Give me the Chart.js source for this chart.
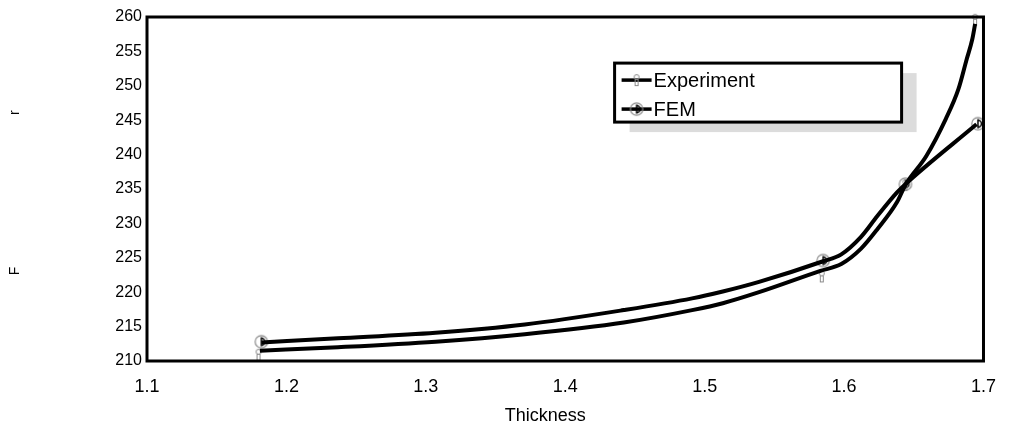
<!DOCTYPE html>
<html>
<head>
<meta charset="utf-8">
<script src="https://cdn.jsdelivr.net/npm/chart.js@4/dist/chart.umd.min.js"></script>
<style>
html,body{margin:0;padding:0;background:#fff;}
canvas{display:block;}
</style>
</head>
<body>
<canvas id="c" width="1011" height="427"></canvas>
<script>
// ---- data ----
const seriesNames = ["Experiment", "FEM"];

// traced Experiment curve (x = thickness, y = F)
const expLineX = [1.181, 1.237, 1.307, 1.371, 1.442, 1.491, 1.513, 1.539, 1.583, 1.598, 1.612, 1.624, 1.638, 1.644, 1.659, 1.673, 1.682, 1.688, 1.692, 1.694];
const expLineY = [211.5, 212.0, 212.8, 213.9, 215.6, 217.4, 218.4, 220.0, 223.1, 224.1, 226.3, 229.2, 233.1, 235.6, 239.8, 245.2, 249.5, 253.9, 256.8, 259.0];

// traced FEM curve
const femLineX = [1.182, 1.237, 1.307, 1.371, 1.442, 1.491, 1.513, 1.539, 1.585, 1.598, 1.612, 1.624, 1.638, 1.644, 1.695];
const femLineY = [212.7, 213.3, 214.1, 215.3, 217.4, 219.1, 220.1, 221.5, 224.5, 225.5, 228.0, 231.1, 234.5, 235.7, 244.4];

// measured points (markers)
const expPtsX = [1.180, 1.584, 1.644, 1.694];
const expPtsY = [210.9, 222.3, 235.6, 259.6];
const femPtsX = [1.182, 1.585, 1.644, 1.696];
const femPtsY = [212.8, 224.6, 235.7, 244.5];

// axis ticks
const xTickValues = [1.1, 1.2, 1.3, 1.4, 1.5, 1.6, 1.7];
const xTickLabels = ["1.1", "1.2", "1.3", "1.4", "1.5", "1.6", "1.7"];
const yTickValues = [210, 215, 220, 225, 230, 235, 240, 245, 250, 255, 260];
const yTickLabels = ["210", "215", "220", "225", "230", "235", "240", "245", "250", "255", "260"];

const xTitle = "Thickness";
const yTitleParts = ["F", "r"];

// ---- marker images ----
function makeExpMarker() {
  const c = document.createElement('canvas');
  c.width = 8; c.height = 14;
  const g = c.getContext('2d');
  g.strokeStyle = '#8a8a8a'; g.lineWidth = 1;
  g.beginPath(); g.arc(4, 4, 2.5, 0, Math.PI * 2); g.stroke();
  g.strokeRect(2.5, 6.5, 3, 6);
  return c;
}
function makeFemMarker() {
  const c = document.createElement('canvas');
  c.width = 16; c.height = 16;
  const g = c.getContext('2d');
  g.strokeStyle = '#8a8a8a'; g.lineWidth = 1.2;
  g.beginPath(); g.arc(8, 8, 6.2, 0, Math.PI * 2); g.stroke();
  g.strokeStyle = '#000'; g.lineWidth = 1.5;
  g.beginPath(); g.moveTo(8, 3.5); g.lineTo(8, 12.5); g.stroke();
  g.beginPath(); g.arc(8, 8, 3.5, -Math.PI / 2, Math.PI / 2); g.stroke();
  return c;
}
const expMarker = makeExpMarker();
const femMarker = makeFemMarker();

const toXY = (xs, ys) => xs.map((x, i) => ({ x: x, y: ys[i] }));

const FONT = "'Liberation Sans', Arial, sans-serif";

// ---- plot frame + legend plugin ----
const framePlugin = {
  id: 'frame',
  afterDraw(chart) {
    const a = chart.chartArea;
    const ctx = chart.ctx;
    ctx.save();
    ctx.strokeStyle = '#000';
    ctx.lineWidth = 3;
    ctx.strokeRect(a.left, a.top, a.right - a.left, a.bottom - a.top);

    // legend box
    const w = a.right - a.left, h = a.bottom - a.top;
    const lx = a.left + w * 0.559, ly = a.top + h * 0.134;
    const lw = 287, lh = 59;
    ctx.fillStyle = '#dcdcdc';
    ctx.fillRect(lx + 15, ly + 10, lw, lh);
    ctx.fillStyle = '#fff';
    ctx.fillRect(lx, ly, lw, lh);
    ctx.strokeStyle = '#000';
    ctx.lineWidth = 3;
    ctx.strokeRect(lx, ly, lw, lh);

    const markers = [expMarker, femMarker];
    ctx.font = '20px ' + FONT;
    ctx.textBaseline = 'middle';
    ctx.textAlign = 'left';
    for (let i = 0; i < seriesNames.length; i++) {
      const yy = ly + 17 + i * 29;
      ctx.strokeStyle = '#000';
      ctx.lineWidth = 3.5;
      ctx.beginPath(); ctx.moveTo(lx + 7, yy); ctx.lineTo(lx + 37, yy); ctx.stroke();
      const m = markers[i];
      ctx.drawImage(m, lx + 22 - m.width / 2, yy - m.height / 2);
      ctx.fillStyle = '#000';
      ctx.fillText(seriesNames[i], lx + 39, yy + 1);
    }
    ctx.restore();
  }
};

const spaces = ' '.repeat(39);

new Chart(document.getElementById('c'), {
  type: 'scatter',
  data: {
    datasets: [
      { label: seriesNames[0], data: toXY(expLineX, expLineY), showLine: true, borderColor: '#000', borderWidth: 4, pointRadius: 0, cubicInterpolationMode: 'monotone', fill: false, order: 1 },
      { label: seriesNames[1], data: toXY(femLineX, femLineY), showLine: true, borderColor: '#000', borderWidth: 4, pointRadius: 0, cubicInterpolationMode: 'monotone', fill: false, order: 1 },
      { label: seriesNames[0] + ' points', data: toXY(expPtsX, expPtsY), showLine: false, pointStyle: expMarker, pointRadius: 6, order: 2 },
      { label: seriesNames[1] + ' points', data: toXY(femPtsX, femPtsY), showLine: false, pointStyle: femMarker, pointRadius: 7, order: 2 }
    ]
  },
  options: {
    responsive: false,
    animation: false,
    devicePixelRatio: 1,
    clip: false,
    layout: { padding: { left: 0, right: 16, top: 17, bottom: 0 } },
    plugins: { legend: { display: false }, tooltip: { enabled: false } },
    scales: {
      x: {
        type: 'linear', min: 1.1, max: 1.7,
        grid: { display: false, drawTicks: false },
        border: { display: false },
        afterBuildTicks: s => { s.ticks = xTickValues.map(v => ({ value: v })); },
        afterFit: s => { s.height = 66; },
        ticks: {
          color: '#000', font: { family: FONT, size: 18 }, padding: 15, maxRotation: 0, autoSkip: false,
          callback: (v) => xTickLabels[xTickValues.findIndex(t => Math.abs(t - v) < 1e-9)]
        },
        title: { display: true, text: xTitle + '        ', color: '#000', font: { family: FONT, size: 18 }, padding: { top: 4, bottom: 0 } }
      },
      y: {
        type: 'linear', min: 210, max: 260,
        grid: { display: false, drawTicks: false },
        border: { display: false },
        afterBuildTicks: s => { s.ticks = yTickValues.map(v => ({ value: v })); },
        afterFit: s => { s.width = 147; },
        ticks: {
          color: '#000', font: { family: FONT, size: 16 }, padding: 5, autoSkip: false,
          callback: (v) => yTickLabels[yTickValues.indexOf(v)]
        },
        title: { display: true, text: yTitleParts[0] + spaces + yTitleParts[1] + '  ', color: '#000', font: { family: FONT, size: 14 }, padding: { top: 7, bottom: 0 } }
      }
    }
  },
  plugins: [framePlugin]
});
</script>
</body>
</html>
